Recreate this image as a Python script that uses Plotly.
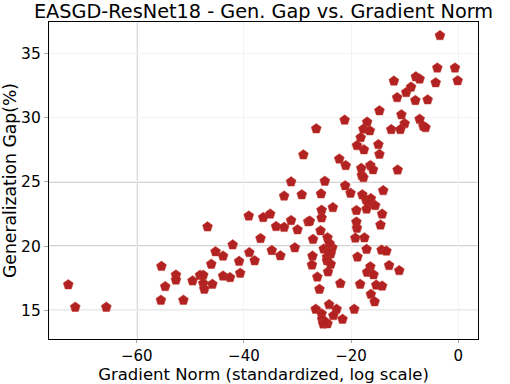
import plotly.graph_objects as go

grad_norm = [
    -72.8, -71.5, -65.7,
    -55.4, -54.7, -55.5, -52.7, -52.7, -51.3, -49.6, -48.2, -47.6, -47.6, -47.4,
    -46.8, -45.9, -46.1, -45.3, -43.9, -43.9, -42.6, -42.1, -40.9, -40.7, -39.1,
    -39.0, -38.0, -36.9, -36.4, -35.1, -34.8, -34.0, -33.2, -32.5, -31.2, -30.5,
    -30.0, -28.0, -27.7, -31.2, -32.5, -29.2, -28.9, -26.5, -24.9, -25.6, -25.5,
    -25.5, -23.4, -25.7, -27.1, -24.4, -27.2, -27.3, -25.1, -24.5, -23.8, -23.5,
    -24.5, -24.3, -26.3, -25.9, -22.0, -24.1, -26.6, -22.7, -25.5, -23.3, -25.4,
    -21.6, -25.2, -24.4, -19.4, -24.8, -24.2, -24.0, -23.8,
    -22.2, -21.0, -21.1, -20.1, -21.2, -17.9, -17.2, -16.3, -16.8, -17.1, -15.5,
    -14.0, -14.2, -14.5, -19.0, -19.0, -18.9, -19.2, -17.5, -17.1, -18.8, -14.3,
    -13.4, -12.9, -11.0, -16.4, -17.0, -15.8, -18.3, -15.3, -14.2, -16.3, -15.6,
    -17.6, -14.7, -18.1, -16.4, -15.9, -18.0, -17.7, -11.3, -14.9, -18.9, -18.2,
    -17.0, -17.7, -16.5, -14.7, -10.6, -10.0, -12.5, -10.8, -7.2, -6.5, -6.1,
    -12.0, -11.4, -9.7, -8.8, -7.9, -7.2, -8.0, -5.7, -4.2, -3.9, -0.6, -0.1, -3.4,
]
gen_gap = [
    17.0, 15.25, 15.25,
    18.43, 16.86, 15.8, 17.76, 17.37, 15.8, 17.3, 17.74, 17.74, 17.1, 16.65,
    21.5, 17.04, 18.6, 19.57, 19.23, 17.68, 17.56, 20.1, 18.82, 17.9, 22.35,
    19.5, 18.87, 20.6, 22.23, 22.5, 19.67, 21.53, 19.26, 21.46, 22.0, 19.88,
    21.28, 21.9, 21.95, 25.0, 23.9, 24.0, 27.1, 29.13, 25.05, 24.07, 22.8,
    22.2, 23.0, 21.2, 20.53, 20.66, 19.23, 18.54, 19.78, 19.15, 19.4, 19.88,
    18.87, 18.0, 17.6, 16.65, 17.1, 15.46, 15.1, 15.1, 14.75, 14.6, 14.3,
    14.32, 13.95, 13.97, 15.1, 14.1, 19.5, 20.2, 18.6,
    26.78, 26.27, 24.7, 24.12, 29.8, 24.0, 23.6, 23.7, 23.3, 22.88, 23.16,
    24.32, 22.5, 21.65, 22.78, 21.88, 21.4, 20.63, 20.65, 19.75, 19.16, 19.7,
    19.62, 18.5, 18.1, 18.4, 17.97, 17.78, 17.04, 16.97, 16.9, 16.26, 15.68,
    27.5, 27.14, 26.05, 26.28, 25.95, 25.5, 25.33, 25.93, 27.9, 27.82, 28.44,
    29.65, 29.1, 28.98, 30.53, 30.22, 29.53, 29.07, 29.07, 29.87, 29.33, 29.22,
    32.84, 31.55, 31.95, 32.37, 33.17, 33.0, 31.33, 31.38, 32.71, 33.86, 33.86, 32.87, 36.38,
]

x_ticks = [-60, -40, -20, 0]
x_tick_labels = ["\u221260", "\u221240", "\u221220", "0"]
y_ticks = [15, 20, 25, 30, 35]
strong_x = [-60]
strong_y = [15, 20, 25]

x_range = [-76.4, 3.7]
y_range = [12.78, 37.43]

fig = go.Figure()
fig.add_trace(go.Scatter(
    x=grad_norm, y=gen_gap, mode="markers",
    marker=dict(symbol="pentagon", size=10.5, color="#b22222",
                line=dict(width=0.5, color="#c0392b")),
    showlegend=False,
))

shapes = []
for xv in strong_x:
    shapes.append(dict(type="line", xref="x", yref="paper", x0=xv, x1=xv, y0=0, y1=1,
                       line=dict(color="#a8a8a8", width=1.2), layer="between"))
for yv in strong_y:
    shapes.append(dict(type="line", xref="paper", yref="y", x0=0, x1=1, y0=yv, y1=yv,
                       line=dict(color="#a8a8a8", width=1.2), layer="between"))

font_family = "DejaVu Sans"
fig.update_layout(
    width=510, height=384,
    margin=dict(l=49, r=32, t=22, b=45),
    paper_bgcolor="white", plot_bgcolor="white",
    font=dict(family=font_family, size=15, color="black"),
    title=dict(text="EASGD-ResNet18 - Gen. Gap vs. Gradient Norm",
               x=0.5, xref="paper", xanchor="center",
               y=0.972, yref="container", yanchor="middle",
               font=dict(size=19.3, family=font_family, color="black")),
    shapes=shapes,
)
fig.update_xaxes(
    range=x_range, tickvals=x_ticks, ticktext=x_tick_labels,
    showgrid=True, gridcolor="#f3f3f3", gridwidth=1, zeroline=False,
    showline=True, linecolor="black", linewidth=1.2, mirror=True,
    ticks="outside", ticklen=3, tickcolor="#a8a8a8",
    tickfont=dict(size=15),
    title=dict(text="Gradient Norm (standardized, log scale)", font=dict(size=16.5), standoff=5),
    automargin=False,
)
fig.update_yaxes(
    range=y_range, tickvals=y_ticks,
    showgrid=True, gridcolor="#f3f3f3", gridwidth=1, zeroline=False,
    showline=True, linecolor="black", linewidth=1.2, mirror=True,
    ticks="outside", ticklen=4, tickcolor="#a8a8a8",
    tickfont=dict(size=15.5),
    title=dict(text="Generalization Gap(%)", font=dict(size=17.2), standoff=3),
    automargin=False,
)

fig.write_html("out.html", config={"displayModeBar": False},
               post_script="document.body.style.margin='0';document.body.style.padding='0';")
